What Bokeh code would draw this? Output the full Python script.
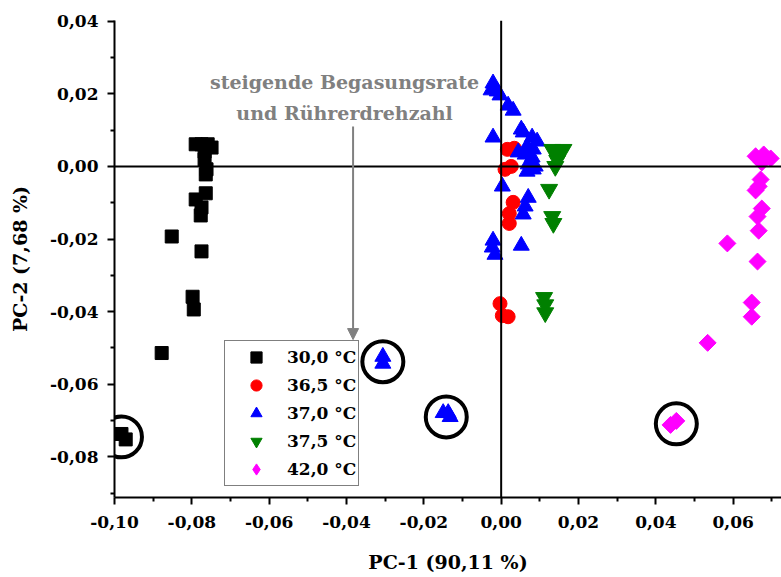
from bokeh.plotting import figure
from bokeh.models import (Span, Label, Arrow, NormalHead, FixedTicker,
                          CustomJSTickFormatter, Legend, LegendItem, Range1d)
from bokeh.embed import file_html
from bokeh.resources import INLINE
import math

# ---------------- data ----------------
series_labels = ["30,0 °C", "36,5 °C", "37,0 °C", "37,5 °C", "42,0 °C"]
series_colors = ["#000000", "#FF0000", "#0000FF", "#008000", "#FF00FF"]

x30 = [-0.0790, -0.0775, -0.0759, -0.0749, -0.0767, -0.0767, -0.0762, -0.0764,
       -0.0764, -0.0790, -0.0775, -0.0777, -0.0852, -0.0775, -0.0798, -0.0795,
       -0.0878, -0.0982, -0.0971]
y30 = [0.0061, 0.0061, 0.0061, 0.0052, 0.0041, 0.0019, -0.0008, -0.0022,
       -0.0074, -0.0091, -0.0113, -0.0135, -0.0193, -0.0234, -0.0359, -0.0394,
       -0.0514, -0.0737, -0.0752]

x365 = [0.0016, 0.0034, 0.0010, 0.0026, 0.0031, 0.0021, 0.0021, -0.0003, 0.0003, 0.0018]
y365 = [0.0047, 0.0050, -0.0008, 0.0000, -0.0099, -0.0130, -0.0157, -0.0378, -0.0411, -0.0414]

x370 = [-0.0021, -0.0026, -0.0010, -0.0003, 0.0018, 0.0031, -0.0021, 0.0052,
        0.0057, 0.0080, 0.0093, 0.0067, 0.0083, 0.0062, 0.0080, 0.0070,
        0.0088, 0.0067, 0.0083, 0.0044, 0.0003, 0.0070, 0.0062, 0.0057,
        -0.0021, -0.0023, -0.0016, 0.0052, -0.0306, -0.0306, -0.0150, -0.0137,
        -0.0132]
y370 = [0.0229, 0.0210, 0.0207, 0.0196, 0.0168, 0.0154, 0.0080, 0.0102,
        0.0094, 0.0080, 0.0069, 0.0055, 0.0047, 0.0033, 0.0025, 0.0006,
        0.0000, -0.0014, -0.0008, 0.0039, -0.0055, -0.0086, -0.0110, -0.0132,
        -0.0204, -0.0223, -0.0243, -0.0218, -0.0524, -0.0543, -0.0679, -0.0679,
        -0.0690]

x375 = [0.0132, 0.0161, 0.0145, 0.0145, 0.0140, 0.0124, 0.0132, 0.0135, 0.0111, 0.0114, 0.0114]
y375 = [0.0047, 0.0047, 0.0033, 0.0017, 0.0000, -0.0063, -0.0138, -0.0157, -0.0361, -0.0381, -0.0403]

x420 = [0.0658, 0.0679, 0.0697, 0.0674, 0.0671, 0.0658, 0.0666, 0.0674, 0.0663,
        0.0666, 0.0585, 0.0663, 0.0648, 0.0648, 0.0534, 0.0438, 0.0453]
y420 = [0.0028, 0.0033, 0.0022, 0.0011, -0.0036, -0.0066, -0.0055, -0.0116, -0.0138,
        -0.0177, -0.0212, -0.0262, -0.0375, -0.0414, -0.0486, -0.0712, -0.0701]

ring_x = [-0.0982, -0.0306, -0.0142, 0.0453]
ring_y = [-0.0745, -0.0538, -0.0690, -0.0709]

x_major = [-0.10, -0.08, -0.06, -0.04, -0.02, 0.0, 0.02, 0.04, 0.06]
x_minor = [-0.09, -0.07, -0.05, -0.03, -0.01, 0.01, 0.03, 0.05, 0.07]
y_major = [-0.08, -0.06, -0.04, -0.02, 0.0, 0.02, 0.04]
y_minor = [-0.09, -0.07, -0.05, -0.03, -0.01, 0.01, 0.03]

note_lines = ["steigende Begasungsrate", "und Rührerdrehzahl"]
note_x = -0.0405
note_y = [0.0232, 0.0146]
arrow_x = -0.0383
arrow_y = [0.0110, -0.0477]

x_title = "PC-1 (90,11 %)"
y_title = "PC-2 (7,68 %)"

FONT = "DejaVu Serif"

# ---------------- figure ----------------
p = figure(width=781, height=577, output_backend="svg", toolbar_location=None,
           x_range=Range1d(-0.10, 0.0725), y_range=Range1d(-0.0912, 0.0402),
           min_border_left=114, min_border_right=0, min_border_top=20,
           min_border_bottom=80)
p.outline_line_color = None
p.xgrid.visible = False
p.ygrid.visible = False
p.background_fill_color = "white"

fmt = CustomJSTickFormatter(code="""
if (Math.abs(tick) < 1e-9) { return '0,00'; }
return tick.toFixed(2).replace('.', ',');
""")

for ax, maj, mnr in ((p.xaxis[0], x_major, x_minor), (p.yaxis[0], y_major, y_minor)):
    ax.ticker = FixedTicker(ticks=maj, minor_ticks=mnr)
    ax.formatter = fmt
    ax.axis_line_width = 2
    ax.axis_line_color = "black"
    ax.major_tick_line_width = 2
    ax.major_tick_line_color = "black"
    ax.minor_tick_line_width = 2
    ax.minor_tick_line_color = "black"
    ax.major_tick_in = 0
    ax.major_tick_out = 7
    ax.minor_tick_in = 0
    ax.minor_tick_out = 4
    ax.major_label_text_font = FONT
    ax.major_label_text_font_style = "bold"
    ax.major_label_text_font_size = "17px"
    ax.major_label_text_color = "black"
    ax.axis_label_text_font = FONT
    ax.axis_label_text_font_style = "bold"
    ax.axis_label_text_font_size = "19px"
    ax.axis_label_text_color = "black"

p.xaxis.axis_label = x_title
p.yaxis.axis_label = y_title
p.xaxis.major_label_standoff = 11
p.yaxis.major_label_standoff = 9
p.xaxis.axis_label_standoff = 20
p.yaxis.axis_label_standoff = 16

p.add_layout(Span(location=0, dimension="height", line_color="black", line_width=2))
p.add_layout(Span(location=0, dimension="width", line_color="black", line_width=2))

r30 = p.scatter(x30, y30, marker="square", size=13, color=series_colors[0])
r365 = p.scatter(x365, y365, marker="circle", size=14, color=series_colors[1])
r370 = p.scatter(x370, y370, marker="triangle", size=16, color=series_colors[2])
r375 = p.scatter(x375, y375, marker="inverted_triangle", size=17, color=series_colors[3])
r420 = p.scatter(x420, y420, marker="square", size=12, angle=math.pi / 4,
                 color=series_colors[4])
# legend key for the diamond series (legend keys ignore the marker angle)
r420_key = p.scatter([float("nan")], [float("nan")], marker="diamond", size=16,
                     color=series_colors[4])

p.scatter(ring_x, ring_y, marker="circle", size=41, fill_color=None,
          line_color="black", line_width=4)

for txt, yy in zip(note_lines, note_y):
    p.add_layout(Label(x=note_x, y=yy, text=txt, text_align="center",
                       text_baseline="alphabetic", text_font=FONT,
                       text_font_style="bold", text_font_size="19px",
                       text_color="#808080"))

p.add_layout(Arrow(end=NormalHead(size=11, fill_color="#808080", line_color="#808080"),
                   x_start=arrow_x, y_start=arrow_y[0], x_end=arrow_x, y_end=arrow_y[1],
                   line_color="#808080", line_width=2))

legend = Legend(items=[LegendItem(label=l, renderers=[r]) for l, r in
                       zip(series_labels, [r30, r365, r370, r375, r420_key])],
                location=(110, 11))
legend.border_line_color = "black"
legend.border_line_width = 1
legend.background_fill_color = "white"
legend.background_fill_alpha = 1
legend.padding = 2
legend.spacing = 0
legend.margin = 0
legend.glyph_width = 58
legend.glyph_height = 28
legend.label_height = 20
legend.label_standoff = 2
legend.label_text_font = FONT
legend.label_text_font_style = "bold"
legend.label_text_font_size = "17px"
legend.label_text_color = "black"
p.add_layout(legend)

open("out.html", "w").write(file_html(p, INLINE))
